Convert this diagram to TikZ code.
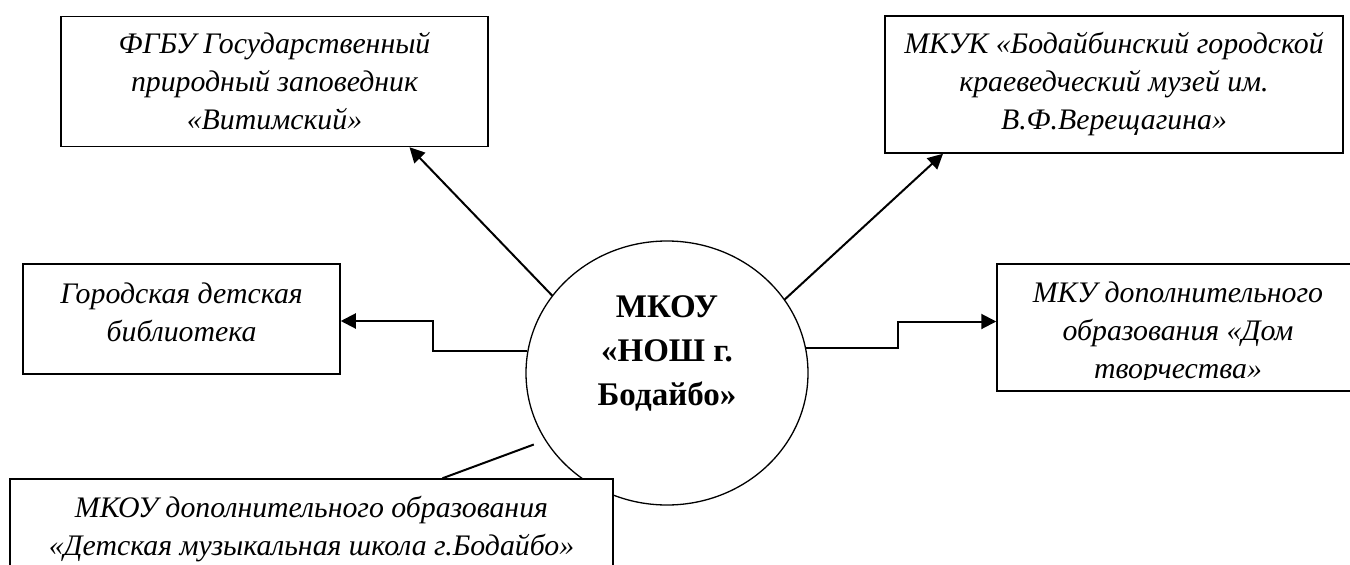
\documentclass[tikz,border=0pt]{standalone}
\usepackage{fontspec}
\setmainfont{Liberation Serif}
\usepackage{tikz}
\usetikzlibrary{arrows.meta,positioning,shapes.geometric}

\begin{document}
\begin{tikzpicture}[x=1pt,y=-1pt,
    orgbox/.style={draw, line width=1.5pt, fill=white, align=center, inner sep=0pt,
        font=\fontsize{29.8}{38}\selectfont\itshape},
    link/.style={line width=2pt},
    arr/.style={link, -{Triangle[length=15pt,width=15pt]}}]
    \useasboundingbox (0,0) rectangle (1350,565);

    % Central school
    \node[ellipse, draw, line width=1.3pt, minimum width=282pt, minimum height=264pt] (school) at (667,373) {};
    \node[align=center, font=\fontsize{33}{44}\selectfont\bfseries] (schoolname) at (667,353) {МКОУ\\«НОШ г.\\Бодайбо»};

    % Partners
    \node[orgbox, minimum width=427pt, minimum height=130pt] (reserve) at (274.5,81.5)
        {ФГБУ Государственный\\природный заповедник\\«Витимский»};
    \node[orgbox, minimum width=458pt, minimum height=137pt] (museum) at (1114,84.5)
        {МКУК «Бодайбинский городской\\краеведческий музей им.\\В.Ф.Верещагина»};
    \node[orgbox, minimum width=317pt, minimum height=110pt,
        path picture={
            \node[align=center, font=\fontsize{29.8}{38}\selectfont\itshape] at ([yshift=7pt]path picture bounding box.center)
                {Городская детская\\библиотека};
        }] (library) at (181.5,319) {};
    \node[orgbox, minimum width=362pt, minimum height=127pt,
        path picture={
            \clip ([yshift=12pt]path picture bounding box.south west) rectangle (path picture bounding box.north east);
            \node[align=center, font=\fontsize{29.8}{38}\selectfont\itshape] at ([yshift=-5.5pt]path picture bounding box.center)
                {МКУ дополнительного\\образования «Дом\\творчества»};
        }] (house) at (1178,327.5) {};
    \node[orgbox, minimum width=603pt, minimum height=100pt] (music) at (311.5,529)
        {МКОУ дополнительного образования\\«Детская музыкальная школа г.Бодайбо»};

    % Links
    \draw[arr] (school.146) -- ([xshift=135pt]reserve.south);
    \draw[arr] (school.32) -- ([xshift=-171pt]museum.south);
    \draw[arr] (school.171) -- ++(-94,0) |- ([yshift=-2pt]library.east);
    \draw[arr] (school.10) -- ++(92,0) |- ([yshift=6pt]house.west);
    \draw[link] ([shift={(-10,6)}]school.208) -- ([xshift=131pt]music.north);
\end{tikzpicture}
\end{document}
